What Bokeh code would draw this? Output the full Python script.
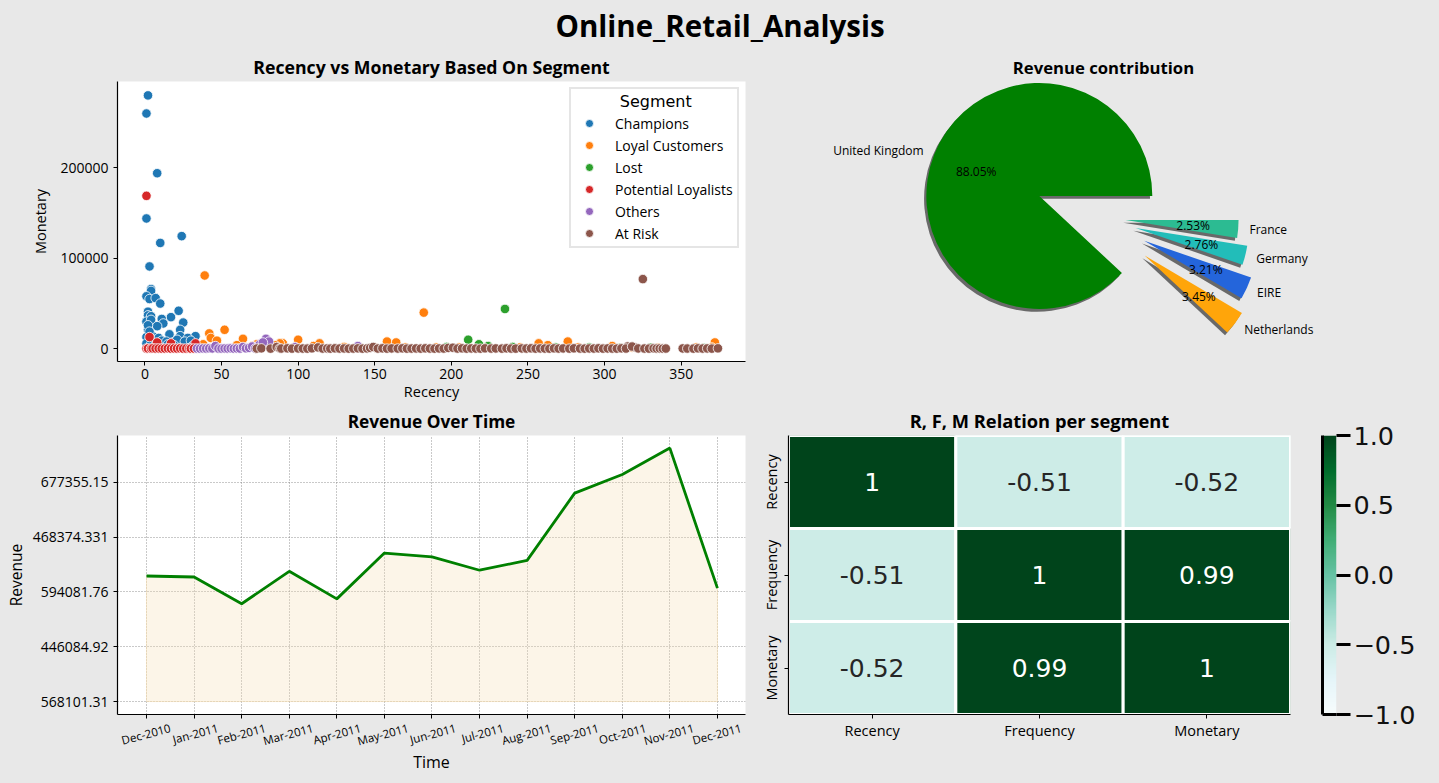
"""Online retail dashboard: RFM scatter, revenue pie, revenue line and RFM heatmap."""

import math

import numpy as np
from bokeh.core.properties import value
from bokeh.embed import file_html
from bokeh.layouts import column, row
from bokeh.models import (ColumnDataSource, FactorRange, FixedTicker, GlobalInlineStyleSheet,
                          LinearAxis, LinearColorMapper, Range1d)
from bokeh.palettes import BuGn
from bokeh.plotting import figure
from bokeh.resources import INLINE

BG = "#E8E8E8"
HAND_FONT = "Open Sans"
PLAIN_FONT = "DejaVu Sans"

# scatter: one recency / monetary pair of lists per segment
champions_r = [2, 1, 8, 1, 10, 24, 3, 4, 4, 1, 3, 7, 10, 22, 17, 2, 2, 4, 1, 4, 11, 12, 25, 8, 2, 23, 16, 5,
               1, 23, 33, 28, 2, 3, 6, 9, 11, 14, 18, 21, 26, 30, 1, 4, 7, 15, 19, 31]
champions_m = [280000, 260000, 194000, 144000, 117000, 124500, 91000, 66000, 64000, 58000, 55000, 56000,
               50000, 42000, 35000, 41000, 37000, 36000, 30000, 32000, 33000, 28000, 29000, 25000, 21000,
               21000, 16000, 14000, 13000, 14000, 14000, 12000, 26000, 19000, 10000, 12000, 9000, 8000,
               7000, 10000, 8000, 9000, 6000, 5000, 4000, 5000, 4000, 3000]
loyal_r = [39, 182, 52, 42, 43, 64, 100, 158, 164, 257, 276, 372, 90, 114, 73, 88, 38, 47, 60, 70, 85, 110,
           130, 150, 170, 190, 205, 225, 245, 263, 283, 305, 318, 335, 360, 370]
loyal_m = [81000, 40000, 21000, 17000, 12000, 11000, 10000, 8000, 7000, 6000, 8000, 7000, 6000, 6000, 5000,
           6000, 5000, 9000, 4000, 3000, 4000, 3000, 2000, 1500, 1500, 1500, 1500, 1500, 1500, 4000, 1500,
           3000, 1500, 1200, 1500, 1500]
lost_r = [235, 211, 218, 197, 224, 240, 268, 290, 310, 330, 365]
lost_m = [44000, 10000, 5000, 2000, 3000, 2000, 1500, 1500, 1000, 1200, 900]
potential_r = [1, 3, 33, 17, 8, 1, 2, 4, 5, 7, 9, 11, 13, 15, 17, 19, 21, 23, 25, 27, 29, 30, 32]
potential_m = [169000, 13000, 6000, 6000, 7000, 300, 400, 200, 500, 300, 400, 200, 300, 500, 200, 400, 300,
               500, 200, 300, 400, 200, 300]
others_r = [79, 81, 139, 98, 34, 36, 38, 40, 42, 44, 46, 48, 50, 52, 54, 56, 58, 60, 62, 64, 66, 68, 70, 72,
            75, 77]
others_m = [11000, 8000, 3000, 2000, 300, 200, 400, 300, 500, 400, 3000, 300, 200, 400, 300, 500, 200, 400,
            300, 2000, 500, 1000, 2500, 400, 5000, 7000]
at_risk_r = [325, 315, 320, 73, 76, 82, 86, 88, 89, 93, 96, 100, 103, 106, 109, 113, 116, 119, 121, 124, 127,
             130, 133, 136, 139, 142, 145, 147, 149, 152, 155, 158, 161, 165, 168, 171, 174, 177, 180, 183,
             186, 189, 192, 195, 198, 201, 204, 207, 210, 213, 216, 219, 222, 226, 229, 233, 236, 239, 242,
             246, 249, 252, 255, 258, 261, 264, 267, 270, 273, 277, 280, 284, 287, 290, 293, 296, 299, 302,
             305, 308, 311, 314, 318, 322, 326, 329, 332, 334, 336, 338, 340, 351, 354, 358, 361, 364, 367,
             370, 374]
at_risk_m = [77000, 2500, 1500, 300, 500, 200, 2000, 400, 300, 500, 200, 400, 300, 200, 500, 1500, 300, 400,
             200, 500, 300, 400, 200, 300, 500, 200, 400, 1000, 2000, 300, 500, 200, 400, 300, 500, 200, 300,
             400, 200, 500, 300, 200, 400, 300, 1000, 1200, 300, 500, 200, 400, 300, 200, 500, 300, 400, 200,
             500, 300, 200, 400, 300, 500, 200, 400, 300, 200, 500, 300, 400, 200, 500, 300, 200, 400, 300,
             500, 200, 400, 300, 200, 500, 300, 2500, 400, 300, 200, 500, 300, 400, 200, 300, 400, 300, 200,
             500, 300, 400, 200, 500]

segments = [
    ("Champions", champions_r, champions_m, "#1f77b4"),
    ("Loyal Customers", loyal_r, loyal_m, "#ff7f0e"),
    ("Lost", lost_r, lost_m, "#2ca02c"),
    ("Potential Loyalists", potential_r, potential_m, "#d62728"),
    ("Others", others_r, others_m, "#9467bd"),
    ("At Risk", at_risk_r, at_risk_m, "#8c564b"),
]

# pie
pie_labels = ["United Kingdom", "Netherlands", "EIRE", "Germany", "France"]
pie_pct = [88.05, 3.45, 3.21, 2.76, 2.53]
pie_colors = ["#008000", "#FFA50A", "#2465DB", "#22BDB9", "#2CBB92"]
pie_explode = [0.52, 0.56, 0.49, 0.38, 0.28]

# revenue per month
months = ["Dec-2010", "Jan-2011", "Feb-2011", "Mar-2011", "Apr-2011", "May-2011", "Jun-2011", "Jul-2011",
          "Aug-2011", "Sep-2011", "Oct-2011", "Nov-2011", "Dec-2011"]
revenue = [572714, 568101.31, 446084.92, 594081.76, 468374.331, 677355.15, 660046, 598962, 644051, 950690,
           1035642, 1156205, 517208]
revenue_ticks = [0, 250000, 500000, 750000, 1000000]
revenue_tick_labels = ["568101.31", "446084.92", "594081.76", "468374.331", "677355.15"]

# correlation heatmap
rfm = ["Recency", "Frequency", "Monetary"]
heat_x = ["Recency", "Frequency", "Monetary"] * 3
heat_y = ["Recency"] * 3 + ["Frequency"] * 3 + ["Monetary"] * 3
heat_values = [1, -0.51, -0.52, -0.51, 1, 0.99, -0.52, 0.99, 1]
colorbar_ticks = [-1.0, -0.5, 0.0, 0.5, 1.0]
colorbar_tick_labels = ["\u22121.0", "\u22120.5", "0.0", "0.5", "1.0"]


def smooth_palette(colors, n=256):
    # bokeh only ships BuGn with 9 steps, blend them up for the colour strip
    rgb = np.array([[int(c[i:i + 2], 16) for i in (1, 3, 5)] for c in colors], dtype=float)
    pos = np.linspace(0, len(colors) - 1, n)
    out = np.stack([np.interp(pos, np.arange(len(colors)), rgb[:, k]) for k in range(3)], axis=1)
    return ["#%02x%02x%02x" % tuple(int(round(v)) for v in px) for px in out]


def style_axes(p):
    p.background_fill_color = "white"
    p.border_fill_color = BG
    p.outline_line_color = None
    p.grid.visible = False
    for ax in p.axis:
        ax.axis_line_color = "black"
        ax.axis_line_width = 1.2
        ax.major_tick_line_color = "black"
        ax.major_tick_in = 0
        ax.major_tick_out = 4
        ax.minor_tick_line_color = None
        ax.major_label_text_font = HAND_FONT
        ax.major_label_text_font_size = "14px"
        ax.major_label_text_color = "black"
        ax.major_label_standoff = 5
        ax.axis_label_text_font = HAND_FONT
        ax.axis_label_text_font_style = "normal"
        ax.axis_label_text_color = "black"
        ax.axis_label_text_font_size = "14.5px"
        ax.axis_label_standoff = 4


def style_title(p, size):
    p.title.align = "center"
    p.title.text_font = HAND_FONT
    p.title.text_font_style = "bold"
    p.title.text_font_size = size
    p.title.text_color = "black"
    p.title.standoff = 5


# page title
head = figure(width=1439, height=50, x_axis_location=None, y_axis_location=None,
              output_backend="svg", toolbar_location=None, min_border=0, x_range=(0, 1), y_range=(0, 1))
head.text(x=[0.5], y=[0.5], text=["Online_Retail_Analysis"], text_font=value(HAND_FONT),
          text_font_style="bold", text_font_size="29.5px", text_color="black",
          text_align="center", text_baseline="middle")
head.background_fill_color = BG
head.border_fill_color = BG
head.outline_line_color = None
head.grid.visible = False

# scatter
scatter = figure(width=760, height=353, title="Recency vs Monetary Based On Segment",
                 x_range=Range1d(-17.9, 392), y_range=Range1d(-14030, 295360),
                 x_axis_label="Recency", y_axis_label="Monetary",
                 output_backend="svg", toolbar_location=None,
                 min_border_left=117, min_border_right=15, min_border_top=31, min_border_bottom=42)
for name, r, m, color in segments:
    scatter.scatter(r, m, size=9.5, fill_color=color, line_color="white", line_width=0.8, legend_label=name)
style_axes(scatter)
style_title(scatter, "17.7px")
scatter.xaxis.ticker = FixedTicker(ticks=[0, 50, 100, 150, 200, 250, 300, 350])
scatter.yaxis.ticker = FixedTicker(ticks=[0, 100000, 200000])
scatter.yaxis.formatter.use_scientific = False
scatter.yaxis.axis_label_standoff = 7
scatter.xaxis.major_label_standoff = 3
scatter.xaxis.axis_label_standoff = 0
scatter.legend.location = "top_right"
scatter.legend.margin = 6
scatter.legend.padding = 3
scatter.legend.spacing = 2
scatter.legend.glyph_width = 30
scatter.legend.glyph_height = 20
scatter.legend.label_standoff = 11
scatter.legend.label_width = 119
scatter.legend.label_text_font = HAND_FONT
scatter.legend.label_text_font_size = "14px"
scatter.legend.label_text_color = "black"
# bokeh keeps legend titles on the left edge, non-breaking spaces centre it over the entries
scatter.legend.title = "\u00a0" * 9 + "Segment"
scatter.legend.title_text_font = PLAIN_FONT
scatter.legend.title_text_font_size = "16px"
scatter.legend.title_text_font_style = "normal"
scatter.legend.title_text_color = "black"
scatter.legend.title_standoff = 2
scatter.legend.border_line_color = "#CCCCCC"
scatter.legend.border_line_width = 2
scatter.legend.background_fill_color = "white"
scatter.legend.background_fill_alpha = 1

# pie: wedges start at 0 degrees and run counter-clockwise, each pushed out along its own middle
pie = figure(width=671, height=353, title="Revenue contribution",
             x_range=Range1d(-2.7035, 2.8717), y_range=Range1d(-1.2743, 1.2035),
             x_axis_location=None, y_axis_location=None,
             output_backend="svg", toolbar_location=None,
             min_border_left=28, min_border_right=13, min_border_top=31, min_border_bottom=42)
style_title(pie, "16.7px")
pie.background_fill_color = BG
pie.border_fill_color = BG
pie.outline_line_color = None
pie.grid.visible = False

start = 0.0
wedge_rows = []
for label, pct, color, ex in zip(pie_labels, pie_pct, pie_colors, pie_explode):
    end = start + pct / 100 * 2 * math.pi
    mid = (start + end) / 2
    wedge_rows.append((label, pct, color, start, end, ex * math.cos(mid), ex * math.sin(mid), mid))
    start = end

for label, pct, color, a0, a1, cx, cy, mid in wedge_rows:
    pie.wedge(x=cx - 0.02, y=cy - 0.025, radius=1, start_angle=a0, end_angle=a1,
              fill_color="black", fill_alpha=0.55, line_color=None)
for label, pct, color, a0, a1, cx, cy, mid in wedge_rows:
    pie.wedge(x=cx, y=cy, radius=1, start_angle=a0, end_angle=a1, fill_color=color, line_color=None)
    pie.text(x=[cx + 1.1 * math.cos(mid)], y=[cy + 1.1 * math.sin(mid)], text=[label],
             text_font=value(HAND_FONT), text_font_size="12px", text_color="black", text_baseline="middle",
             text_align="left" if math.cos(mid) > 0 else "right")
    pie.text(x=[cx + 0.6 * math.cos(mid)], y=[cy + 0.6 * math.sin(mid)], text=[f"{pct:.2f}%"],
             text_font=value(HAND_FONT), text_font_size="12px", text_color="black", text_baseline="middle",
             text_align="center")

# revenue line: months sit at 0, 1, 2, ... on a numeric axis
month_x = list(range(len(months)))
line = figure(width=755, height=372, title="Revenue Over Time",
              x_range=Range1d(-0.61, 12.59), y_range=Range1d(-59090, 1213636),
              y_axis_label="Revenue",
              output_backend="svg", toolbar_location=None,
              min_border_left=117, min_border_right=10, min_border_top=31, min_border_bottom=61)
style_axes(line)
style_title(line, "17.3px")
line.grid.visible = True
line.grid.grid_line_color = "#777777"
line.grid.grid_line_dash = [1, 2]
line.grid.grid_line_width = 0.8
line.patch(month_x + month_x[::-1], revenue + [0] * len(months), fill_color="#F5DEB3", fill_alpha=0.3,
           line_color="#F5DEB3", line_alpha=0.6)
line.line(month_x, revenue, line_color="green", line_width=2.8)
line.xaxis.ticker = FixedTicker(ticks=month_x)
line.xaxis.major_label_overrides = {i: "" for i in month_x}
line.xaxis.major_label_standoff = 0
line.yaxis.ticker = FixedTicker(ticks=revenue_ticks)
line.yaxis.major_label_overrides = dict(zip(revenue_ticks, revenue_tick_labels))
line.yaxis.major_label_standoff = 5
line.yaxis.axis_label_standoff = 3
line.yaxis.axis_label_text_font_size = "15.5px"
# rotated axis labels end at their tick, the reference centres them, so a second
# line-less axis carries the month names half a month to the right
label_ticks = [i + 0.5 for i in month_x]
month_axis = LinearAxis(ticker=FixedTicker(ticks=label_ticks),
                        major_label_overrides=dict(zip(label_ticks, months)),
                        major_label_orientation=math.radians(15),
                        major_label_text_font=HAND_FONT, major_label_text_font_size="11.5px",
                        major_label_text_color="black", major_label_standoff=3,
                        axis_line_color=None, major_tick_line_color=None, minor_tick_line_color=None,
                        axis_label="Time", axis_label_text_font=HAND_FONT, axis_label_text_font_size="16px",
                        axis_label_text_font_style="normal", axis_label_text_color="black",
                        axis_label_standoff=-8)
line.add_layout(month_axis, "below")

# heatmap
mapper = LinearColorMapper(palette=smooth_palette(list(BuGn[9])[::-1]), low=-1, high=1)
heat_source = ColumnDataSource(dict(
    x=heat_x, y=heat_y, value=heat_values,
    label=[str(v) for v in heat_values],
    text_color=["white" if v > 0.3 else "#262626" for v in heat_values],
))
heat = figure(width=545, height=372, title="R, F, M Relation per segment",
              x_range=FactorRange(factors=rfm), y_range=FactorRange(factors=rfm[::-1]),
              output_backend="svg", toolbar_location=None,
              min_border_left=33, min_border_right=10, min_border_top=31, min_border_bottom=61)
style_axes(heat)
style_title(heat, "18.3px")
heat.rect("x", "y", width=1, height=1, source=heat_source, fill_color={"field": "value", "transform": mapper},
          line_color="white", line_width=3)
heat.text("x", "y", text="label", source=heat_source, text_font=value(PLAIN_FONT), text_font_size="25px",
          text_color="text_color", text_align="center", text_baseline="middle")
heat.yaxis.major_label_orientation = "vertical"
heat.yaxis.major_label_standoff = 4
heat.xaxis.major_label_standoff = 2
heat.axis.major_label_text_font_size = "14.5px"

# colour bar strip with seaborn-like spines
cbar = figure(width=131, height=372, x_range=Range1d(0, 1), y_range=Range1d(-1, 1),
              x_axis_location=None, y_axis_location="right",
              output_backend="svg", toolbar_location=None,
              min_border_left=22, min_border_right=95, min_border_top=31, min_border_bottom=61)
cbar.image(image=[np.linspace(-1, 1, 256).reshape(-1, 1)], x=0, y=-1, dw=1, dh=2, color_mapper=mapper)
cbar.grid.visible = False
cbar.outline_line_color = None
cbar.background_fill_color = BG
cbar.border_fill_color = BG
cbar.yaxis.ticker = FixedTicker(ticks=colorbar_ticks)
cbar.yaxis.major_label_overrides = dict(zip(colorbar_ticks, colorbar_tick_labels))
cbar.yaxis.axis_line_color = None
cbar.yaxis.major_tick_in = 0
cbar.yaxis.major_tick_out = 14
cbar.yaxis.major_tick_line_width = 3
cbar.yaxis.major_tick_line_color = "black"
cbar.yaxis.minor_tick_line_color = None
cbar.yaxis.major_label_text_font = PLAIN_FONT
cbar.yaxis.major_label_text_font_size = "25.5px"
cbar.yaxis.major_label_text_color = "#111111"
cbar.yaxis.major_label_standoff = 3
for side in ("left", "below"):
    spine = LinearAxis(ticker=FixedTicker(ticks=[]), axis_line_color="black", axis_line_width=3,
                       major_tick_line_color=None, minor_tick_line_color=None)
    cbar.add_layout(spine, side)

page = column(head, row(scatter, pie, spacing=0), row(line, heat, cbar, spacing=0), spacing=0)
page.stylesheets = [GlobalInlineStyleSheet(css=f"html, body {{ background: {BG}; }}")]

open("out.html", "w").write(file_html(page, INLINE))
